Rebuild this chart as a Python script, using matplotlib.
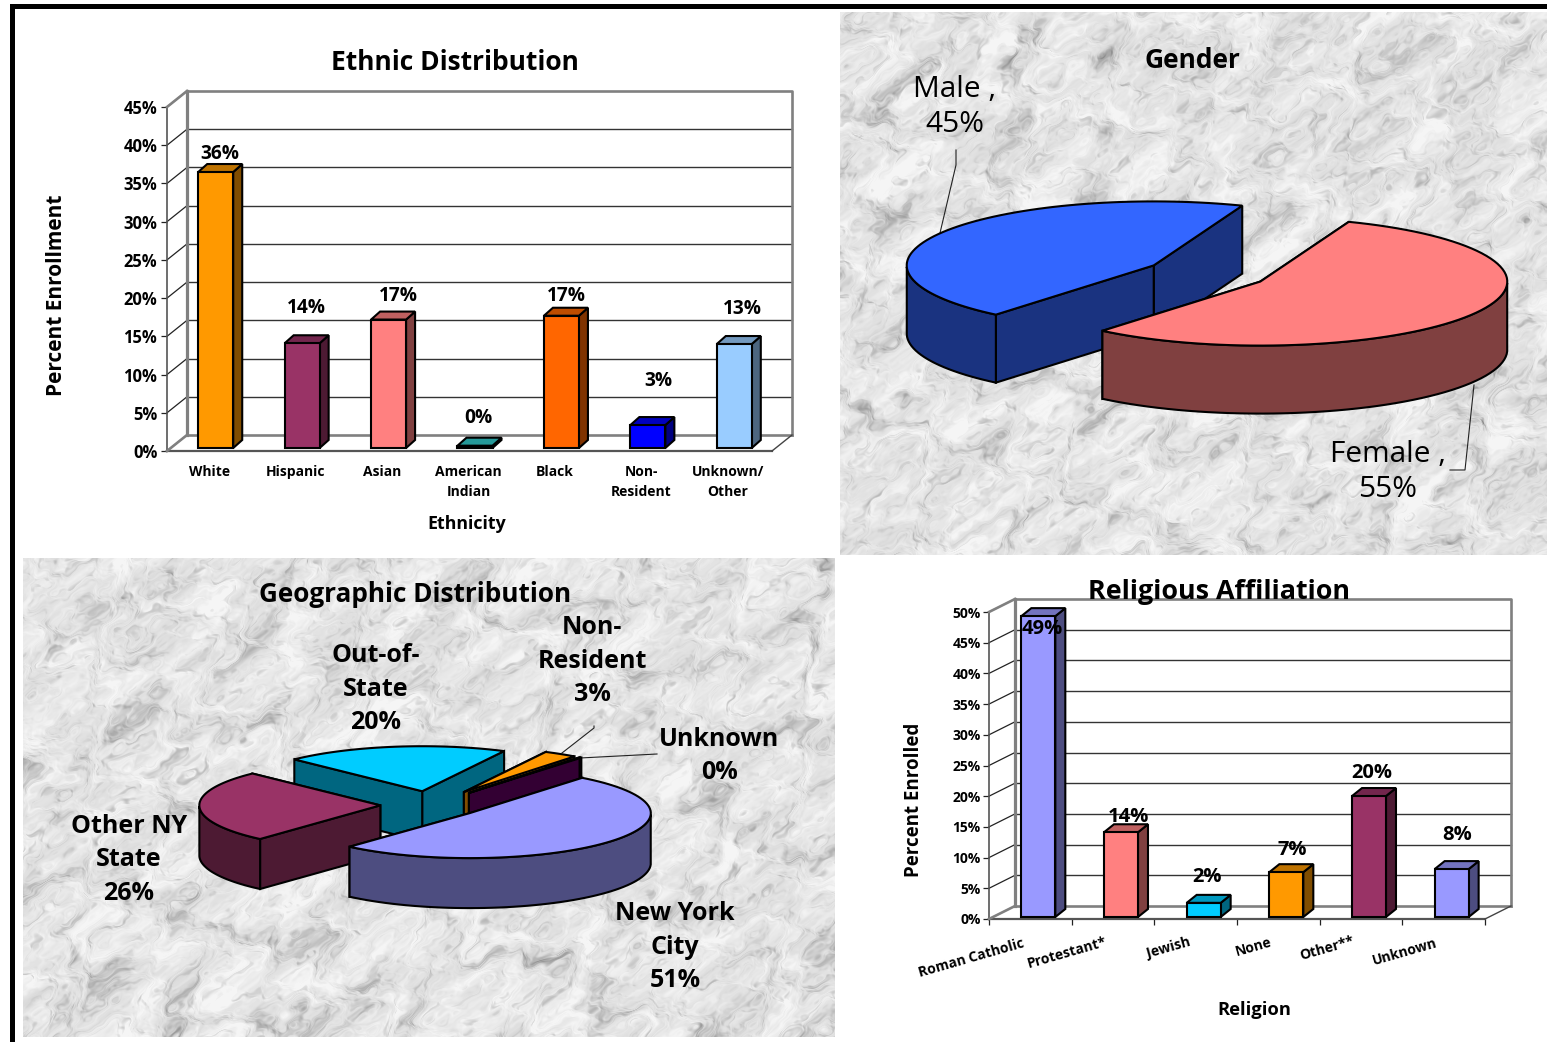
import numpy as np
import matplotlib
matplotlib.use("Agg")
import matplotlib.pyplot as plt
from matplotlib.patches import Polygon

plt.rcParams['font.family'] = ['Open Sans', 'DejaVu Sans']

W, H = 1547, 1042

# ethnic distribution
eth_cats = ['White', 'Hispanic', 'Asian', 'American\nIndian', 'Black', 'Non-\nResident', 'Unknown/\nOther']
eth_vals = [36.1, 13.7, 16.8, 0.3, 17.3, 3.0, 13.6]
eth_labels = ['36%', '14%', '17%', '0%', '17%', '3%', '13%']
eth_colors = ['#FF9900', '#993366', '#FF8080', '#33CCCC', '#FF6600', '#0000FF', '#99CCFF']
eth_ticks = [0, 5, 10, 15, 20, 25, 30, 35, 40, 45]

# religion
rel_cats = ['Roman Catholic', 'Protestant*', 'Jewish', 'None', 'Other**', 'Unknown']
rel_vals = [49.0, 13.8, 2.3, 7.3, 19.7, 7.8]
rel_labels = ['49%', '14%', '2%', '7%', '20%', '8%']
rel_colors = ['#9999FF', '#FF8080', '#00CCFF', '#FF9900', '#993366', '#9999FF']
rel_ticks = [0, 5, 10, 15, 20, 25, 30, 35, 40, 45, 50]

# gender
gen_vals = [55.2, 44.8]
gen_colors = ['#FF8080', '#3366FF']

# geographic
geo_vals = [51, 26, 20, 3, 0.2]
geo_colors = ['#9999FF', '#993366', '#00CCFF', '#FF9900', '#660066']


def shade(col, f):
    r, g, b = matplotlib.colors.to_rgb(col)
    return (r * f, g * f, b * f)


def waves(x, y, n, longest, shrink, smooth, seed):
    # many sine waves at mixed angles, most of them across the up-right streaks
    out = np.zeros_like(x)
    lam = longest
    for k in range(n):
        th = np.radians(58) + 1.0 * np.sin(k * 2.399 + seed)
        ph = (k * k * 0.618 + seed) * 6.283
        out += lam ** smooth * np.sin((x * np.cos(th) + y * np.sin(th)) * 6.283 / lam + ph)
        lam *= shrink
    return out / out.std()


def marble(w, h, seed):
    y, x = np.mgrid[0:h, 0:w].astype(float)
    warp = waves(x, y, 24, 120, 0.9, 0.9, seed + 0.4)
    xw = x + 14 * warp
    yw = y - 10 * warp
    cloud = waves(xw, yw, 110, 110, 0.97, 0.45, seed)
    fleck = waves(xw, yw, 90, 50, 0.975, 0.35, seed + 3.1)
    img = 0.895 + 0.032 * cloud - 0.07 * np.clip(-fleck - 0.9, 0, None) - 0.05 * np.clip(-cloud - 0.9, 0, None)
    return np.clip(img, 0.55, 0.96)


def bars3d(ax, vals, colors, off, width, dep):
    for i, (v, c) in enumerate(zip(vals, colors)):
        x0 = i - width / 2 + off[0]
        x1 = i + width / 2 + off[0]
        y0 = off[1]
        y1 = off[1] + v
        dx, dy = dep
        side = [(x1, y0), (x1 + dx, y0 + dy), (x1 + dx, y1 + dy), (x1, y1)]
        top = [(x0, y1), (x1, y1), (x1 + dx, y1 + dy), (x0 + dx, y1 + dy)]
        ax.add_patch(Polygon(side, fc=shade(c, 0.5), ec='black', lw=1.5, clip_on=False, zorder=5))
        ax.add_patch(Polygon(top, fc=shade(c, 0.75), ec='black', lw=1.5, clip_on=False, zorder=5))
        ax.add_patch(Polygon([(x0, y0), (x1, y0), (x1, y1), (x0, y1)], fc=c, ec='black', lw=1.5,
                             clip_on=False, zorder=6))


def frame3d(ax, ticks, n, depth):
    dx, dy = depth
    left, right = -0.5, n - 0.5
    top = ticks[-1]
    for t in ticks[1:-1]:
        ax.plot([left + dx, right + dx], [t + dy, t + dy], color='#333333', lw=1.0, clip_on=False, zorder=2)
    for t in ticks:
        ax.plot([left, left + dx], [t, t + dy], color='#222222', lw=0.9, clip_on=False, zorder=2)
    gray = '#808080'
    ax.plot([left + dx, right + dx, right + dx], [top + dy, top + dy, dy], color=gray, lw=1.9, clip_on=False, zorder=3)
    ax.plot([left + dx, left + dx], [dy, top + dy], color=gray, lw=2.3, clip_on=False, zorder=3)
    ax.plot([left, left + dx], [top, top + dy], color=gray, lw=1.9, clip_on=False, zorder=3)
    ax.plot([left + dx, right + dx], [dy, dy], color=gray, lw=1.9, clip_on=False, zorder=3)
    ax.plot([left, left + dx], [0, dy], color=gray, lw=1.9, clip_on=False, zorder=3)
    ax.plot([right, right + dx], [0, dy], color='#444444', lw=1.0, clip_on=False, zorder=3)


def chart_axes(x0, x1, y0, y1, ticks, n, size, pad, xticks):
    # x0..x1 and y0 (zero line), y1 (top tick) in pixels of the front plane
    ax = fig.add_axes([x0 / W, 1 - y0 / H, (x1 - x0) / W, (y0 - y1) / H])
    ax.patch.set_alpha(0)
    ax.set_xlim(-0.5, n - 0.5)
    ax.set_ylim(0, ticks[-1])
    ax.set_yticks(ticks)
    ax.set_yticklabels([f'{t}%' for t in ticks], fontweight='bold', fontsize=size)
    ax.tick_params(axis='y', length=4, width=0.9, color='#222222', pad=pad)
    if xticks:
        ax.set_xticks(np.arange(n + 1) - 0.5)
    else:
        ax.set_xticks([])
    ax.set_xticklabels([])
    ax.tick_params(axis='x', length=4, width=0.9, color='#222222')
    for s in ['top', 'right']:
        ax.spines[s].set_visible(False)
    ax.spines['left'].set_color('#555555')
    ax.spines['left'].set_linewidth(1.2)
    ax.spines['bottom'].set_color('#555555')
    ax.spines['bottom'].set_linewidth(1.6)
    return ax


def arc(c, a0, a1):
    t = np.radians(np.linspace(a0, a1, 80))
    return np.column_stack([c[0] + np.cos(t), c[1] + np.sin(t)])


def pie3d(cx, cy, rx, ry, depth, vals, colors, start, explode):
    # data unit is one radius, the axes box squashes the circle into an ellipse
    ax = fig.add_axes([(cx - rx) / W, 1 - (cy + ry) / H, 2 * rx / W, 2 * ry / H])
    ax.set_xlim(-1, 1)
    ax.set_ylim(-1, 1)
    ax.axis('off')
    d = depth / ry
    fracs = np.array(vals, float) / sum(vals) * 360
    wedges = []
    a = start
    for f, c, e in zip(fracs, colors, explode):
        mid = np.radians(a - f / 2)
        wedges.append(((e * np.cos(mid), e * np.sin(mid)), a - f, a, c))
        a -= f
    wedges.sort(key=lambda w: -w[0][1])
    for c0, a0, a1, col in wedges:
        rim = arc(c0, a0, a1)
        dark = shade(col, 0.5)
        for tip in (rim[0], rim[-1]):
            face = [c0, tip, (tip[0], tip[1] - d), (c0[0], c0[1] - d)]
            ax.add_patch(Polygon(face, fc=dark, ec='black', lw=1.5, clip_on=False))
        front = rim[np.sin(np.radians(np.linspace(a0, a1, 80))) <= 0]
        if len(front) > 1:
            low = front[::-1] - [0, d]
            ax.add_patch(Polygon(np.vstack([front, low]), fc=dark, ec='black', lw=1.5, clip_on=False))
        ax.add_patch(Polygon(np.vstack([[c0], rim]), fc=col, ec='black', lw=1.5, clip_on=False))
    return ax


fig = plt.figure(figsize=(W / 100, H / 100), dpi=100, facecolor='white')
bg = fig.add_axes([0, 0, 1, 1])
bg.axis('off')

bg.imshow(marble(707, 543, 1.3), cmap='gray', vmin=0, vmax=1, extent=(840, 1547, 555, 12), aspect='auto')
bg.imshow(marble(812, 479, 2.9), cmap='gray', vmin=0, vmax=1, extent=(23, 835, 1037, 558), aspect='auto')
bg.set_xlim(0, W)
bg.set_ylim(H, 0)
bg.fill_between([10, W], 4, 9, color='black', lw=0)
bg.fill_between([10, 15], 4, H, color='black', lw=0)


def label(x, y, s, size=16, weight='bold', **kw):
    # figure level text, so it sits above the chart axes
    fig.text(x / W, 1 - y / H, s, fontsize=size, fontweight=weight, ha='center', va='center',
             color='black', zorder=20, **kw)


# ethnic bar chart
ax1 = chart_axes(167, 772, 451, 107, eth_ticks, len(eth_cats), 12, 3, False)
frame3d(ax1, eth_ticks, len(eth_cats), (20 / 86.4, 16 / 7.64))
bars3d(ax1, eth_vals, eth_colors, (5.5 / 86.4, 3 / 7.64), 35 / 86.4, (9 / 86.4, 8 / 7.64))
eth_off = [(10, 21), (10, 38), (15, 27), (9, 31), (10, 23), (16, 47), (14, 38)]
for i, (v, s) in enumerate(zip(eth_vals, eth_labels)):
    ax1.annotate(s, (i, v), xytext=eth_off[i], textcoords='offset pixels', ha='center', va='center',
                 fontsize=13.8, fontweight='bold', annotation_clip=False, zorder=8)
for i, s in enumerate(eth_cats):
    ax1.annotate(s, (i, 0), xytext=(-1, -14), textcoords='offset pixels', ha='center', va='top', fontsize=10,
                 fontweight='bold', linespacing=1.5, annotation_clip=False)
label(455, 62, 'Ethnic Distribution', 19)
label(56, 295, 'Percent Enrollment', 15, rotation=90)
label(467, 524, 'Ethnicity', 12.8)

# religion bar chart
ax2 = chart_axes(989, 1485, 919, 612, rel_ticks, len(rel_cats), 10, 2, True)
frame3d(ax2, rel_ticks, len(rel_cats), (26 / 82.7, 13 / 6.14))
bars3d(ax2, rel_vals, rel_colors, (8 / 82.7, 2 / 6.14), 34 / 82.7, (10 / 82.7, 8 / 6.14))
rel_off = [(12, -11), (15, 17), (11, 28), (14, 24), (11, 25), (13, 36)]
for i, (v, s) in enumerate(zip(rel_vals, rel_labels)):
    ax2.annotate(s, (i, v), xytext=rel_off[i], textcoords='offset pixels', ha='center', va='center',
                 fontsize=14.5, fontweight='bold', annotation_clip=False, zorder=8)
rel_xpos = [971, 1067, 1169, 1254, 1327, 1405]
rel_ypos = [958, 953, 948, 947, 948, 952]
for x, y, s in zip(rel_xpos, rel_ypos, rel_cats):
    label(x, y, s, 10, rotation=16)
label(1219, 592, 'Religious Affiliation', 19.4)
label(914, 800, 'Percent Enrolled', 13.5, rotation=90)
label(1254, 1010, 'Religion', 13.2)

# gender pie
pie3d(1207, 273.5, 247, 64, 68, gen_vals, gen_colors, 69, [0.25, 0.25])
bg.plot([956, 956, 940], [150, 165, 233], color='#222222', lw=0.8)
bg.plot([1450, 1465, 1474], [470, 470, 385], color='#222222', lw=0.8)
label(1192, 60, 'Gender', 19)
label(955, 107, 'Male ,\n45%', 21.5, 'normal', linespacing=1.25)
label(1388, 472, 'Female ,\n55%', 21.5, 'normal', linespacing=1.25)

# geographic pie
pie3d(431, 805, 181, 45, 50, geo_vals, geo_colors, 51.6, [0.28, 0.28, 0.31, 0.34, 0.34])
bg.plot([594, 594, 562], [726, 728, 753], color='#222222', lw=0.8)
bg.plot([657, 580], [754, 758], color='#222222', lw=0.8)
label(415, 594, 'Geographic Distribution', 18.8)
label(376, 689, 'Out-of-\nState\n20%', 18, linespacing=1.45)
label(592, 661, 'Non-\nResident\n3%', 18, linespacing=1.45)
label(719, 756, 'Unknown\n0%', 18, linespacing=1.45)
label(129, 860, 'Other NY\nState\n26%', 18, linespacing=1.45)
label(675, 947, 'New York\nCity\n51%', 18, linespacing=1.45)

fig.savefig('out.png', dpi=100)
